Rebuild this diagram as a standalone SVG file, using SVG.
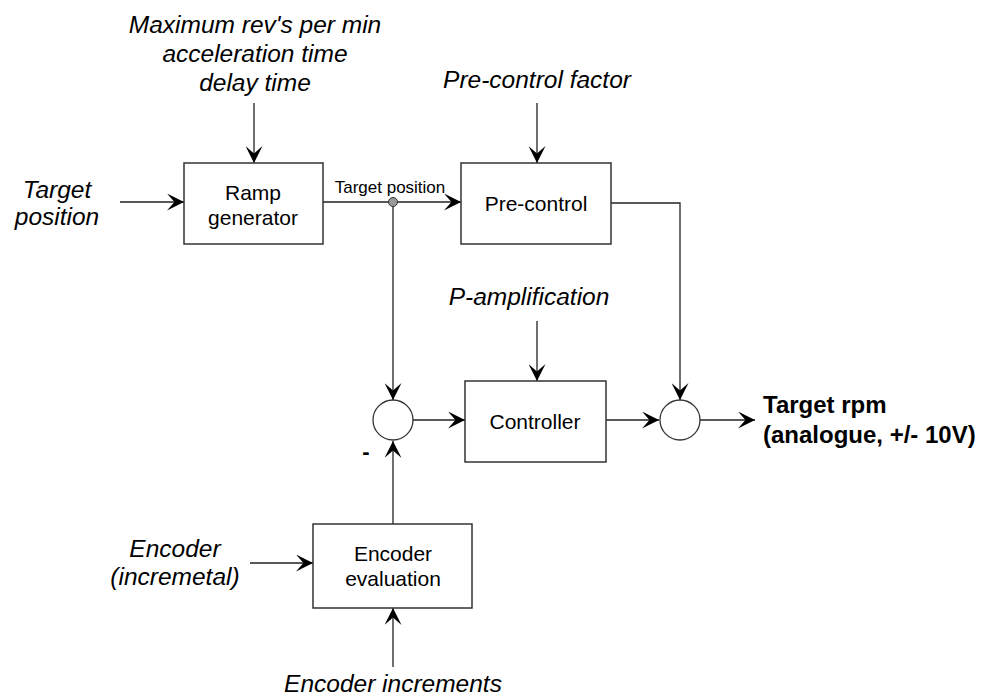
<svg xmlns="http://www.w3.org/2000/svg" width="983" height="698" viewBox="0 0 983 698">
<defs>
<style>
text{font-family:"Liberation Sans",Arial,sans-serif;fill:#000}
.it{font-style:italic;font-size:24.5px;text-anchor:middle}
.lb{font-size:21px;text-anchor:middle}
.sm{font-size:17px;text-anchor:middle}
.bd{font-weight:bold;font-size:24px}
.box{fill:#fff;stroke:#333;stroke-width:1.5}
.sum{fill:#fff;stroke:#333;stroke-width:1.3}
.ln{fill:none;stroke:#222;stroke-width:1.3}
.ar{fill:none;stroke:#222;stroke-width:1.3;marker-end:url(#ah)}
</style>
<marker id="ah" markerUnits="userSpaceOnUse" markerWidth="17" markerHeight="17" viewBox="0 -8 16 16" refX="16" refY="0" orient="auto">
<path d="M0,-8 L16,0 L0,8 L7,0 Z" fill="#000"/>
</marker>
</defs>
<rect width="983" height="698" fill="#fff"/>
<g id="connectors">
<line class="ar" x1="254" y1="103" x2="254" y2="163"/>
<line class="ar" x1="120" y1="202" x2="184" y2="202"/>
<line class="ar" x1="323" y1="202" x2="461" y2="202"/>
<line class="ar" x1="537" y1="103" x2="537" y2="163"/>
<polyline class="ar" points="611,203 680,203 680,400"/>
<line class="ar" x1="393" y1="202" x2="393" y2="400"/>
<line class="ar" x1="537" y1="321" x2="537" y2="381"/>
<line class="ar" x1="413" y1="420" x2="465" y2="420"/>
<line class="ar" x1="606" y1="420" x2="659" y2="420"/>
<line class="ar" x1="700" y1="420" x2="755" y2="420"/>
<line class="ar" x1="393" y1="524" x2="393" y2="441"/>
<line class="ar" x1="250" y1="563" x2="313" y2="563"/>
<line class="ar" x1="393" y1="667" x2="393" y2="608"/>
<circle cx="393" cy="202" r="4.5" fill="#999" stroke="#333" stroke-width="1"/>
<text class="sm" x="390" y="193">Target position</text>
</g>
<g id="ramp">
<rect class="box" x="184" y="163" width="139" height="81"/>
<text class="lb" x="253" y="200">Ramp</text>
<text class="lb" x="253" y="225">generator</text>
</g>
<g id="precontrol">
<rect class="box" x="461" y="163" width="150" height="81"/>
<text class="lb" x="536" y="211">Pre-control</text>
</g>
<g id="controller">
<rect class="box" x="465" y="381" width="141" height="81"/>
<text class="lb" x="535" y="429">Controller</text>
</g>
<g id="encoder">
<rect class="box" x="313" y="524" width="159" height="84"/>
<text class="lb" x="393" y="561">Encoder</text>
<text class="lb" x="393" y="586">evaluation</text>
</g>
<g id="sum1">
<circle class="sum" cx="393" cy="420" r="20"/>
<text x="366" y="459" style="font-size:22px;font-weight:bold;text-anchor:middle">-</text>
</g>
<g id="sum2">
<circle class="sum" cx="680" cy="420" r="20"/>
</g>
<g id="labels">
<text class="it" x="255" y="33">Maximum rev's per min</text>
<text class="it" x="255" y="62">acceleration time</text>
<text class="it" x="255" y="91">delay time</text>
<text class="it" x="57" y="198">Target</text>
<text class="it" x="57" y="225">position</text>
<text class="it" x="537" y="88">Pre-control factor</text>
<text class="it" x="529" y="305">P-amplification</text>
<text class="it" x="175" y="557">Encoder</text>
<text class="it" x="175" y="585">(incremetal)</text>
<text class="it" x="393" y="692">Encoder increments</text>
<text class="bd" x="763" y="413">Target rpm</text>
<text class="bd" x="763" y="443">(analogue, +/- 10V)</text>
</g>
</svg>
